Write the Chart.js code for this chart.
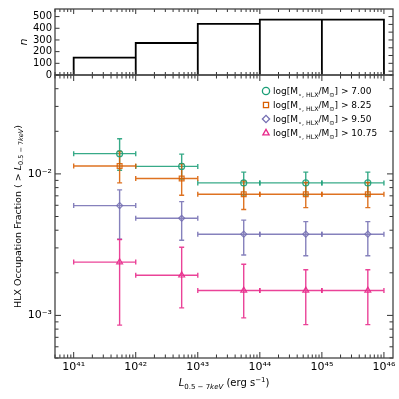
<!DOCTYPE html>
<html><head><meta charset="utf-8">
<script src="https://cdn.jsdelivr.net/npm/chart.js@4.4.1/dist/chart.umd.min.js"></script>
<style>
html,body{margin:0;padding:0;background:#fff;}
#wrap{position:relative;width:399px;height:399px;background:#fff;}
canvas{position:absolute;left:0;top:0;}
</style></head><body>
<div id="wrap"><canvas id="top" width="399" height="399"></canvas><canvas id="bot" width="399" height="399"></canvas></div>
<script>
// ---------------- data ----------------
const binEdges = [1e41, 1e42, 1e43, 1e44, 1e45, 1e46];
const histCounts = [148, 274, 437, 474, 474];
const lumCenters = [5.5e41, 5.5e42, 5.5e43, 5.5e44, 5.5e45];
const massThresholds = ['7.00', '8.25', '9.50', '10.75'];

const frac700 = [0.0139, 0.0113, 0.00864, 0.00864, 0.00864];
const hi700   = [0.0177, 0.0138, 0.0103, 0.0103, 0.0103];
const lo700   = [0.0106, 0.0092, 0.0071, 0.0071, 0.0071];

const frac825 = [0.01138, 0.00927, 0.00718, 0.00718, 0.00718];
const hi825   = [0.0144, 0.0118, 0.0089, 0.0087, 0.0087];
const lo825   = [0.00864, 0.00706, 0.0056, 0.00578, 0.00578];

const frac950 = [0.00597, 0.00486, 0.00375, 0.00375, 0.00375];
const hi950   = [0.00771, 0.00637, 0.00471, 0.0046, 0.0046];
const lo950   = [0.00346, 0.0034, 0.00267, 0.00264, 0.00264];

const frac1075 = [0.00238, 0.00192, 0.0015, 0.0015, 0.0015];
const hi1075   = [0.00344, 0.00303, 0.0023, 0.0021, 0.0021];
const lo1075   = [0.000854, 0.00113, 0.00096, 0.00086, 0.00086];

const xTickValues = [1e41, 1e42, 1e43, 1e44, 1e45, 1e46];
const yTickValues = [1e-3, 1e-2];
const nTickValues = [0, 100, 200, 300, 400, 500];
const nRightTicks = [500, 433, 367, 300, 233, 167, 100, 33];

// ---------------- helpers ----------------
const FONT = "'DejaVu Sans', sans-serif";
const SUP = {'0':'⁰','1':'¹','2':'²','3':'³','4':'⁴','5':'⁵','6':'⁶','7':'⁷','8':'⁸','9':'⁹','-':'⁻'};
function sup(n){ return String(n).split('').map(c=>SUP[c]||c).join(''); }
function logMinors(lo, hi){
  const out=[];
  for(let e=Math.floor(Math.log10(lo))-1; e<=Math.ceil(Math.log10(hi)); e++){
    for(let k=2;k<=9;k++){ const v=k*Math.pow(10,e); if(v>=lo*0.999 && v<=hi*1.001) out.push(v); }
  }
  return out;
}
function fontStr(s){ return (s.style||'normal')+' '+s.size+'px '+FONT; }
function drawRich(ctx, x, y, segs, align){
  let w=0;
  segs.forEach(s=>{ ctx.font=fontStr(s); w+=ctx.measureText(s.t).width; });
  let cx = align==='center' ? x-w/2 : x;
  ctx.textAlign='left'; ctx.textBaseline='alphabetic';
  segs.forEach(s=>{ ctx.font=fontStr(s); ctx.fillText(s.t, cx, y+(s.dy||0)); cx+=ctx.measureText(s.t).width; });
}
function tickMarks(ctx, scale, vals, len, side, a){
  vals.forEach(v=>{
    const p = scale.getPixelForValue(v);
    ctx.beginPath();
    if(side==='bottom'){ ctx.moveTo(p,a.bottom); ctx.lineTo(p,a.bottom-len); }
    else if(side==='top'){ ctx.moveTo(p,a.top); ctx.lineTo(p,a.top+len); }
    else if(side==='left'){ ctx.moveTo(a.left,p); ctx.lineTo(a.left+len,p); }
    else { ctx.moveTo(a.right,p); ctx.lineTo(a.right-len,p); }
    ctx.stroke();
  });
}
const X_MIN = 5e40, X_MAX = 1.4e46;
const xMinors = logMinors(X_MIN, X_MAX);
const yMinors = logMinors(5e-4, 0.05);

// ---------------- top histogram ----------------
const histOutline = [];
for(let i=0;i<histCounts.length;i++){
  histOutline.push({x:binEdges[i],y:0},{x:binEdges[i],y:histCounts[i]},{x:binEdges[i+1],y:histCounts[i]},{x:binEdges[i+1],y:0});
}
const topFrame = {
  id:'topFrame',
  afterDraw(chart){
    const ctx=chart.ctx, a=chart.chartArea, xs=chart.scales.x, ys=chart.scales.y;
    ctx.save();
    ctx.strokeStyle='#333'; ctx.lineWidth=1;
    tickMarks(ctx,xs,xTickValues,5,'bottom',a); tickMarks(ctx,xs,xTickValues,5,'top',a);
    tickMarks(ctx,xs,xMinors,3,'bottom',a); tickMarks(ctx,xs,xMinors,3,'top',a);
    tickMarks(ctx,ys,nTickValues,4.5,'left',a); tickMarks(ctx,ys,nRightTicks,4.5,'right',a);
    ctx.strokeStyle='#444'; ctx.lineWidth=1.3;
    ctx.strokeRect(a.left,a.top,a.right-a.left,a.bottom-a.top);
    ctx.restore();
  }
};
new Chart(document.getElementById('top'),{
  type:'line',
  data:{datasets:[{data:histOutline,borderColor:'#000',borderWidth:1.8,pointRadius:0,fill:false,tension:0,clip:4}]},
  options:{
    responsive:false, animation:false, events:[],
    plugins:{legend:{display:false},tooltip:{enabled:false}},
    layout:{padding:{top:4,left:0,right:6,bottom:0}},
    scales:{
      x:{type:'logarithmic',min:X_MIN,max:X_MAX,ticks:{display:false},grid:{display:false,drawTicks:false},border:{display:false},
         afterFit(s){ s.height=324; }},
      y:{type:'linear',min:0,max:565,
         afterBuildTicks(s){ s.ticks = nTickValues.map(v=>({value:v})); },
         ticks:{font:{family:FONT,size:10},color:'#000',padding:3,autoSkip:false},
         grid:{display:false,drawTicks:false},border:{display:false},
         title:{display:true,text:'n',font:{family:FONT,size:11,style:'italic'},color:'#000',padding:{top:18,bottom:0}},
         afterFit(s){ s.width=55; }}
    }
  },
  plugins:[topFrame]
});

// ---------------- bottom occupation fraction ----------------
const series = [
  {thr:massThresholds[0], y:frac700, hi:hi700, lo:lo700, color:'#1b9e77', style:'circle', r:3},
  {thr:massThresholds[1], y:frac825, hi:hi825, lo:lo825, color:'#d95f02', style:'rect', r:3.4},
  {thr:massThresholds[2], y:frac950, hi:hi950, lo:lo950, color:'#7570b3', style:'rectRot', r:3},
  {thr:massThresholds[3], y:frac1075, hi:hi1075, lo:lo1075, color:'#e7298a', style:'triangle', r:3.4},
];
function withAlpha(hex, a){
  const r=parseInt(hex.slice(1,3),16), g=parseInt(hex.slice(3,5),16), b=parseInt(hex.slice(5,7),16);
  return 'rgba('+r+','+g+','+b+','+a+')';
}
const datasets = series.map(s=>({
  label:s.thr,
  data: lumCenters.map((x,i)=>({x:x, y:s.y[i]})),
  showLine:false,
  pointStyle:s.style, pointRadius:s.r, pointBorderWidth:1.2,
  pointBackgroundColor:'rgba(0,0,0,0)', pointBorderColor:withAlpha(s.color,0.9),
  errHi:s.hi, errLo:s.lo, baseColor:s.color
}));
const errorBars = {
  id:'errorBars',
  beforeDatasetsDraw(chart){
    const ctx=chart.ctx, xs=chart.scales.x, ys=chart.scales.y;
    ctx.save(); ctx.lineWidth=1.4;
    chart.data.datasets.forEach(ds=>{
      ctx.strokeStyle=withAlpha(ds.baseColor,0.88);
      ds.data.forEach((pt,i)=>{
        const px=xs.getPixelForValue(pt.x), py=ys.getPixelForValue(pt.y);
        const x0=xs.getPixelForValue(binEdges[i]), x1=xs.getPixelForValue(binEdges[i+1]);
        const yh=ys.getPixelForValue(ds.errHi[i]), yl=ys.getPixelForValue(ds.errLo[i]);
        const c=2.5;
        ctx.beginPath();
        ctx.moveTo(x0,py); ctx.lineTo(x1,py);
        ctx.moveTo(x0,py-c); ctx.lineTo(x0,py+c);
        ctx.moveTo(x1,py-c); ctx.lineTo(x1,py+c);
        ctx.moveTo(px,yh); ctx.lineTo(px,yl);
        ctx.moveTo(px-c,yh); ctx.lineTo(px+c,yh);
        ctx.moveTo(px-c,yl); ctx.lineTo(px+c,yl);
        ctx.stroke();
      });
    });
    ctx.restore();
  }
};
const botFrame = {
  id:'botFrame',
  afterDraw(chart){
    const ctx=chart.ctx, a=chart.chartArea, xs=chart.scales.x, ys=chart.scales.y;
    ctx.save();
    ctx.strokeStyle='#333'; ctx.lineWidth=1;
    tickMarks(ctx,xs,xTickValues,6,'bottom',a); tickMarks(ctx,xs,xTickValues,6,'top',a);
    tickMarks(ctx,xs,xMinors,3.5,'bottom',a); tickMarks(ctx,xs,xMinors,3.5,'top',a);
    tickMarks(ctx,ys,yTickValues,6,'left',a); tickMarks(ctx,ys,yTickValues,6,'right',a);
    tickMarks(ctx,ys,yMinors,3.5,'left',a); tickMarks(ctx,ys,yMinors,3.5,'right',a);
    ctx.strokeStyle='#444'; ctx.lineWidth=1.3;
    ctx.strokeRect(a.left,a.top,a.right-a.left,a.bottom-a.top);
    // legend
    ctx.fillStyle='#000';
    chart.data.datasets.forEach((ds,i)=>{
      const lx=a.right-127, ly=a.top+16+i*14;
      ctx.save();
      ctx.strokeStyle=ds.baseColor; ctx.fillStyle='rgba(0,0,0,0)';
      Chart.helpers.drawPoint(ctx,{pointStyle:ds.pointStyle,radius:3.6,borderWidth:1.1,rotation:0},lx,ly);
      ctx.restore();
      ctx.fillStyle='#000';
      drawRich(ctx, lx+7, ly+3.3, [
        {t:'log[M',size:9},{t:'⋆, HLX',size:6.3,dy:2.3},{t:'/M',size:9},{t:'⊙',size:6.3,dy:2.3},{t:'] > '+ds.label,size:9}
      ],'left');
    });
    // axis titles
    ctx.fillStyle='#000';
    drawRich(ctx,(a.left+a.right)/2,386,[
      {t:'L',size:10,style:'italic'},{t:'0.5 − 7',size:7,dy:2.5},{t:'keV',size:7,dy:2.5,style:'italic'},
      {t:' (erg s',size:10},{t:'−1',size:7,dy:-4},{t:')',size:10}
    ],'center');
    ctx.save();
    ctx.translate(17,(a.top+a.bottom)/2); ctx.rotate(-Math.PI/2);
    drawRich(ctx,0,3.5,[
      {t:'HLX Occupation Fraction ( > ',size:9.5},{t:'L',size:9.5,style:'italic'},
      {t:'0.5 − 7',size:6.5,dy:2.2},{t:'keV',size:6.5,dy:2.2,style:'italic'},{t:')',size:9.5}
    ],'center');
    ctx.restore();
    ctx.restore();
  }
};
new Chart(document.getElementById('bot'),{
  type:'scatter',
  data:{datasets:datasets},
  options:{
    responsive:false, animation:false, events:[],
    plugins:{legend:{display:false},tooltip:{enabled:false}},
    layout:{padding:{top:75,left:0,right:6,bottom:0}},
    scales:{
      x:{type:'logarithmic',min:X_MIN,max:X_MAX,
         afterBuildTicks(s){ s.ticks = xTickValues.map(v=>({value:v})); },
         ticks:{font:{family:FONT,size:11},color:'#000',padding:3,maxRotation:0,autoSkip:false,
                callback(v){ return '10'+sup(Math.round(Math.log10(v))); }},
         grid:{display:false,drawTicks:false},border:{display:false},
         afterFit(s){ s.height=41; }},
      y:{type:'logarithmic',min:5e-4,max:0.05,
         afterBuildTicks(s){ s.ticks = yTickValues.map(v=>({value:v})); },
         ticks:{font:{family:FONT,size:11},color:'#000',padding:3,autoSkip:false,
                callback(v){ return '10'+sup(Math.round(Math.log10(v))); }},
         grid:{display:false,drawTicks:false},border:{display:false},
         afterFit(s){ s.width=55; }}
    }
  },
  plugins:[errorBars, botFrame]
});
</script>
</body></html>
